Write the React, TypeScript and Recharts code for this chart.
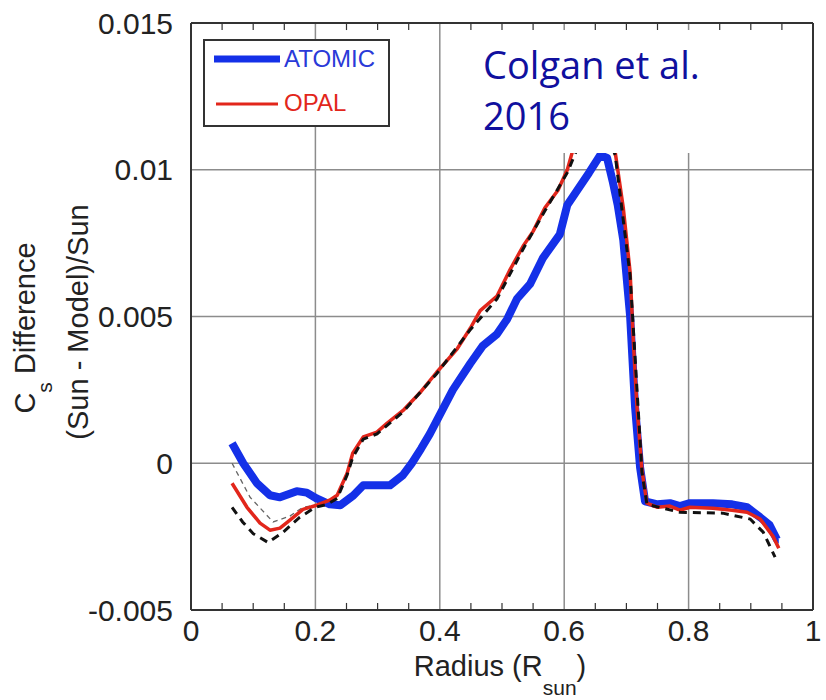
import React from 'react';
import { LineChart, Line, XAxis, YAxis, CartesianGrid, Legend, ReferenceLine } from 'recharts';

// ---- data (radius in R_sun, relative sound-speed difference) ----
const ATOMIC_R = [0.066, 0.084, 0.106, 0.127, 0.143, 0.17, 0.186, 0.202, 0.223, 0.24, 0.261, 0.277, 0.299, 0.32, 0.341, 0.355, 0.37, 0.384, 0.421, 0.449, 0.469, 0.492, 0.508, 0.524, 0.545, 0.566, 0.593, 0.605, 0.621, 0.64, 0.658, 0.669, 0.678, 0.686, 0.695, 0.706, 0.714, 0.722, 0.73, 0.75, 0.77, 0.786, 0.802, 0.839, 0.87, 0.894, 0.915, 0.93, 0.942, 0.945];
const ATOMIC_V = [0.00068, 0.0, -0.00068, -0.00109, -0.00116, -0.00095, -0.001, -0.0012, -0.0014, -0.00143, -0.0011, -0.00075, -0.00075, -0.00075, -0.0004, 0.0, 0.0005, 0.001, 0.0025, 0.0034, 0.004, 0.0044, 0.0049, 0.0056, 0.0061, 0.007, 0.0078, 0.0088, 0.0093, 0.0099, 0.0105, 0.0104, 0.0096, 0.0088, 0.0076, 0.005, 0.0019, -0.00014, -0.0013, -0.0014, -0.00136, -0.00146, -0.00136, -0.00136, -0.0014, -0.0015, -0.00184, -0.0021, -0.0026, -0.0026];

const OPAL_R = [0.066, 0.09, 0.111, 0.127, 0.143, 0.159, 0.18, 0.202, 0.223, 0.235, 0.251, 0.26, 0.277, 0.299, 0.315, 0.341, 0.368, 0.395, 0.428, 0.449, 0.465, 0.492, 0.513, 0.534, 0.55, 0.569, 0.59, 0.605, 0.613, 0.63, 0.65, 0.668, 0.682, 0.695, 0.706, 0.711, 0.717, 0.725, 0.733, 0.75, 0.77, 0.786, 0.802, 0.839, 0.87, 0.894, 0.915, 0.936, 0.945];
const OPAL_V = [-0.00068, -0.0015, -0.00204, -0.00228, -0.00221, -0.00194, -0.00157, -0.00143, -0.00126, -0.00109, -0.00034, 0.00034, 0.0009, 0.00106, 0.00136, 0.0018, 0.0024, 0.0031, 0.0039, 0.0046, 0.0052, 0.0057, 0.0066, 0.0074, 0.0079, 0.0087, 0.0093, 0.01, 0.0106, 0.0116, 0.0123, 0.0121, 0.0106, 0.0087, 0.0065, 0.0042, 0.0019, -0.00024, -0.00136, -0.0015, -0.00146, -0.0016, -0.0015, -0.00153, -0.0016, -0.00167, -0.0019, -0.0025, -0.0029];

const MODEL_R = [0.066, 0.083, 0.1, 0.124, 0.148, 0.175, 0.2, 0.219, 0.235, 0.251, 0.26, 0.277, 0.299, 0.341, 0.395, 0.449, 0.492, 0.534, 0.569, 0.605, 0.65, 0.682, 0.706, 0.725, 0.733, 0.786, 0.855, 0.899, 0.92, 0.939];
const MODEL_V = [-0.0015, -0.002, -0.0024, -0.0027, -0.00235, -0.00184, -0.0015, -0.0014, -0.0012, -0.0004, 0.0002, 0.00082, 0.001, 0.00175, 0.00305, 0.00455, 0.0056, 0.0073, 0.0086, 0.0099, 0.0122, 0.0105, 0.0064, -0.0003, -0.0014, -0.00167, -0.0017, -0.0019, -0.00235, -0.0032];

const THIN_R = [0.066, 0.095, 0.132, 0.159, 0.18, 0.202];
const THIN_V = [0.0, -0.00116, -0.002, -0.0018, -0.0015, -0.00143];

const X_TICKS = [0, 0.2, 0.4, 0.6, 0.8, 1];
const X_MINOR = [0.05, 0.1, 0.15, 0.25, 0.3, 0.35, 0.45, 0.5, 0.55, 0.65, 0.7, 0.75, 0.85, 0.9, 0.95];
const Y_TICKS = [-0.005, 0, 0.005, 0.01, 0.015];
const X_LABELS = ['0', '0.2', '0.4', '0.6', '0.8', '1'];
const Y_LABELS = ['-0.005', '0', '0.005', '0.01', '0.015'];
const Y_MIN = -0.005;
const Y_MAX = 0.015;
const MINOR_LEN = 0.00024; // minor tick length in data units

const toData = (rs: number[], vs: number[]) => rs.map((r, i) => ({ r, v: vs[i] }));
const atomicData = toData(ATOMIC_R, ATOMIC_V);
const opalData = toData(OPAL_R, OPAL_V);
const modelData = toData(MODEL_R, MODEL_V);
const thinData = toData(THIN_R, THIN_V);

const FONT = '"Liberation Sans", Arial, Helvetica, sans-serif';
const BLUE = '#1430e8';
const RED = '#e2261b';
const FRAME = '#333';
const GRID = '#8c8c8c';

const fmtX = (v: number) => X_LABELS[X_TICKS.findIndex((t) => Math.abs(t - v) < 1e-9)] ?? String(v);
const fmtY = (v: number) => Y_LABELS[Y_TICKS.findIndex((t) => Math.abs(t - v) < 1e-9)] ?? String(v);

const YTitle = () => (
  <g fontFamily={FONT} fill="#222">
    <text transform="translate(35,328) rotate(-90)" textAnchor="middle" fontSize={29}>
      C<tspan dy={17} fontSize={21}>s</tspan><tspan dy={-17}>{'  Difference'}</tspan>
    </text>
    <text transform="translate(88,322) rotate(-90)" textAnchor="middle" fontSize={29}>
      (Sun - Model)/Sun
    </text>
  </g>
);

const XTitle = () => (
  <text x={500} y={676} textAnchor="middle" fontSize={29} fontFamily={FONT} fill="#222">
    Radius (R<tspan dy={19} fontSize={21}>sun</tspan><tspan dy={-19}>)</tspan>
  </text>
);

const LegendBox = () => (
  <svg width={187} height={88} style={{ display: 'block' }}>
    <rect x={1} y={1} width={185} height={86} fill="#fff" stroke="#333" strokeWidth={2} />
    <line x1={11} y1={20} x2={77} y2={20} stroke={BLUE} strokeWidth={7} />
    <text x={81} y={28} fontSize={24} fontFamily={FONT} fill="#2a3ad8">ATOMIC</text>
    <line x1={13} y1={65} x2={75} y2={65} stroke={RED} strokeWidth={3} />
    <text x={81} y={72} fontSize={24} fontFamily={FONT} fill={RED}>OPAL</text>
  </svg>
);

export default function App() {
  return (
    <div style={{ position: 'absolute', left: 0, top: 0, width: 826, height: 700, background: '#fff' }}>
      <LineChart width={826} height={700} margin={{ top: 23, right: 13, bottom: 30, left: 0 }}>
        <CartesianGrid stroke={GRID} strokeWidth={1.5} />
        <XAxis
          type="number"
          dataKey="r"
          domain={[0, 1]}
          ticks={X_TICKS}
          interval={0}
          tickFormatter={fmtX}
          height={60}
          tickSize={0}
          tickMargin={10}
          axisLine={{ stroke: FRAME, strokeWidth: 2 }}
          tick={{ fontSize: 30, fill: '#222', fontFamily: FONT }}
          allowDataOverflow
          label={<XTitle />}
        />
        <YAxis
          type="number"
          domain={[Y_MIN, Y_MAX]}
          ticks={Y_TICKS}
          interval={0}
          tickFormatter={fmtY}
          width={191}
          tickSize={0}
          tickMargin={18}
          axisLine={{ stroke: FRAME, strokeWidth: 2 }}
          tick={{ fontSize: 30, fill: '#222', fontFamily: FONT }}
          allowDataOverflow
          label={<YTitle />}
        />
        <ReferenceLine y={Y_MAX} stroke={FRAME} strokeWidth={2} />
        <ReferenceLine x={1} stroke={FRAME} strokeWidth={2} />
        {X_MINOR.map((m) => (
          <ReferenceLine key={'b' + m} segment={[{ x: m, y: Y_MIN }, { x: m, y: Y_MIN + MINOR_LEN }]} stroke={FRAME} strokeWidth={1.2} />
        ))}
        {X_MINOR.map((m) => (
          <ReferenceLine key={'t' + m} segment={[{ x: m, y: Y_MAX }, { x: m, y: Y_MAX - MINOR_LEN }]} stroke={FRAME} strokeWidth={1.2} />
        ))}
        <Line data={thinData} dataKey="v" type="linear" stroke="#666" strokeWidth={1.3} strokeDasharray="5 4" dot={false} isAnimationActive={false} />
        <Line data={atomicData} dataKey="v" type="linear" stroke={BLUE} strokeWidth={8} strokeLinejoin="round" dot={false} isAnimationActive={false} />
        <Line data={opalData} dataKey="v" type="linear" stroke={RED} strokeWidth={3.5} strokeLinejoin="round" dot={false} isAnimationActive={false} />
        <Line data={modelData} dataKey="v" type="linear" stroke="#111" strokeWidth={3} strokeDasharray="8 6" dot={false} isAnimationActive={false} />
        <Legend
          content={<LegendBox />}
          layout="horizontal"
          verticalAlign="middle"
          align="center"
          wrapperStyle={{ left: 203, top: 39, width: 187, height: 88 }}
        />
      </LineChart>
      <div
        style={{
          position: 'absolute',
          left: 470,
          top: 30,
          width: 235,
          height: 123,
          background: '#fff',
          color: '#10109e',
          fontFamily: '"Open Sans", "Noto Sans", sans-serif',
          fontSize: 38,
          lineHeight: '51px',
          paddingLeft: 13,
          paddingTop: 9,
          boxSizing: 'border-box',
        }}
      >
        <div>Colgan et al.</div>
        <div>2016</div>
      </div>
    </div>
  );
}
